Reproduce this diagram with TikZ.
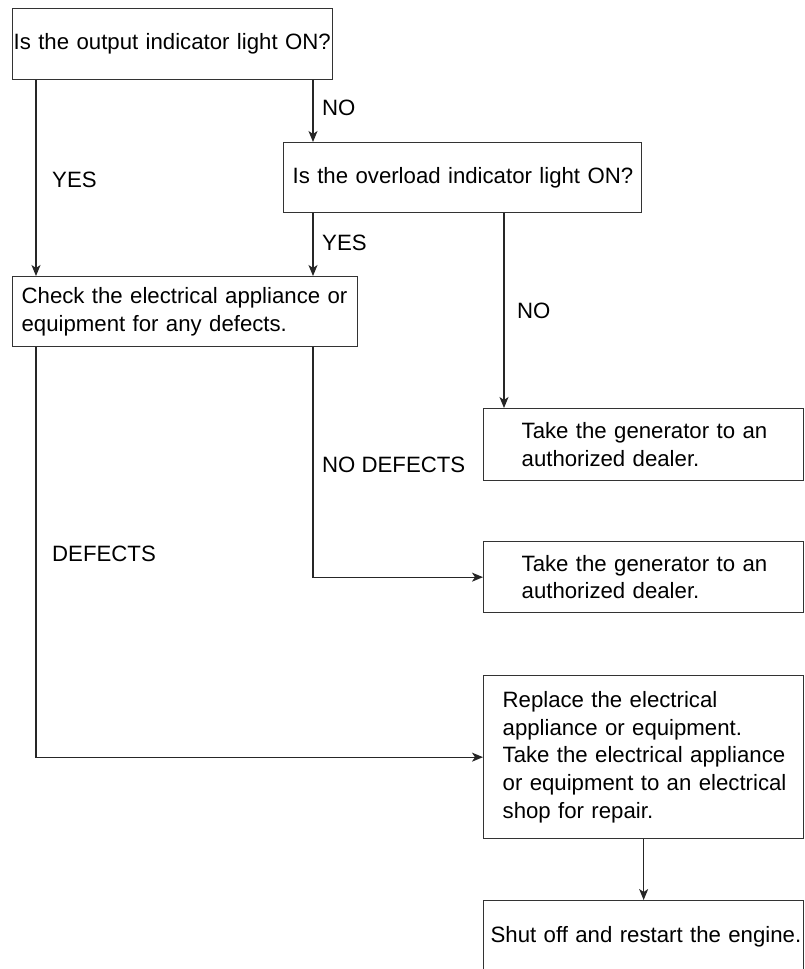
\documentclass[tikz,border=0pt]{standalone}
\usepackage{fontspec}
\setmainfont{Liberation Sans}
\usetikzlibrary{arrows.meta,calc}
\begin{document}
\begin{tikzpicture}[x=1pt,y=-1pt,
  box/.style={draw=black!80, line width=1.3pt, rectangle, anchor=north west, align=left, inner ysep=0pt, font=\fontsize{22.2}{27.6}\selectfont},
  lbl/.style={anchor=west, inner sep=0pt, font=\fontsize{22.2}{27.6}\selectfont},
  arr/.style={draw=black!85, line width=1.3pt, -{Stealth[length=11pt,width=9pt,inset=3pt]}}]
\useasboundingbox (0,0) rectangle (804,969);
\fill[white] (0,0) rectangle (804,969);
% boxes
\node[box, minimum width=320pt, minimum height=71pt, inner xsep=1pt, text width=318pt] (b1) at (12,8)
  {\mbox{Is the output indicator light ON?}};
\node[box, minimum width=358pt, minimum height=70pt, inner xsep=9pt, text width=340pt] (b2) at (283,142)
  {\mbox{Is the overload indicator light ON?}};
\node[box, minimum width=345pt, minimum height=70pt, inner xsep=9pt, text width=327pt] (b3) at (12,276)
  {\mbox{Check the electrical appliance or}\\\mbox{equipment for any defects.}};
\node[box, minimum width=320pt, minimum height=72pt, inner xsep=38pt, text width=244pt] (b4) at (483,408)
  {\mbox{Take the generator to an}\\\mbox{authorized dealer.}};
\node[box, minimum width=320pt, minimum height=71pt, inner xsep=38pt, text width=244pt] (b5) at (483,541)
  {\mbox{Take the generator to an}\\\mbox{authorized dealer.}};
\node[box, minimum width=320pt, minimum height=163pt, inner xsep=19pt, text width=282pt] (b6) at (483,675)
  {\mbox{Replace the electrical}\\\mbox{appliance or equipment.}\\\mbox{Take the electrical appliance}\\\mbox{or equipment to an electrical}\\\mbox{shop for repair.}};
\node[box, minimum width=320pt, minimum height=72pt, inner xsep=7pt, text width=306pt] (b7) at (483,900)
  {\mbox{Shut off and restart the engine.}};
% connectors
\draw[arr] ([xshift=30pt]b2.north west |- b1.south) -- ([xshift=30pt]b2.north west);
\draw[arr] ([xshift=24pt]b1.south west) -- ([xshift=24pt]b3.north west);
\draw[arr] ([xshift=30pt]b2.south west) -- ([xshift=30pt]b2.south west |- b3.north);
\draw[arr] ([xshift=21pt]b4.north west |- b2.south) -- ([xshift=21pt]b4.north west);
\draw[arr] ([xshift=301pt]b3.south west) |- (b5.west);
\draw[arr] ([xshift=24pt]b3.south west) |- (b6.west);
\draw[arr] (b6.south) -- (b6.south |- b7.north);
% labels
\node[lbl] (l1) at (322,108) {NO};
\node[lbl] (l2) at (52,180) {YES};
\node[lbl] (l3) at (322,243) {YES};
\node[lbl] (l4) at (517,311) {NO};
\node[lbl] (l5) at (322,465) {NO DEFECTS};
\node[lbl] (l6) at (52,554) {DEFECTS};
\end{tikzpicture}
\end{document}
